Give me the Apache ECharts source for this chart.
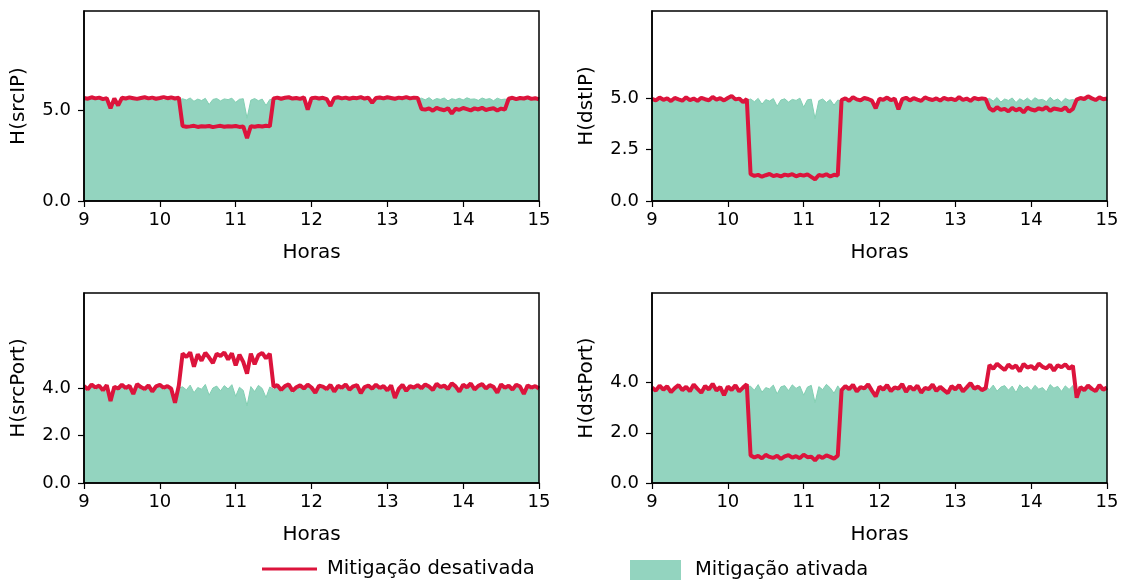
<!DOCTYPE html>
<html>
<head>
<meta charset="utf-8">
<script src="https://cdn.jsdelivr.net/npm/echarts@6/dist/echarts.min.js"></script>
<style>
  html, body { margin: 0; padding: 0; background: #fff; }
  #chart { width: 1124px; height: 584px; }
</style>
</head>
<body>
<div id="chart"></div>
<script>
// Sample times (hours of day), one reading every 3 minutes
const hours = [
  9.00, 9.05, 9.10, 9.15, 9.20, 9.25, 9.30, 9.35, 9.40, 9.45,
  9.50, 9.55, 9.60, 9.65, 9.70, 9.75, 9.80, 9.85, 9.90, 9.95,
  10.00, 10.05, 10.10, 10.15, 10.20, 10.25, 10.30, 10.35, 10.40, 10.45,
  10.50, 10.55, 10.60, 10.65, 10.70, 10.75, 10.80, 10.85, 10.90, 10.95,
  11.00, 11.05, 11.10, 11.15, 11.20, 11.25, 11.30, 11.35, 11.40, 11.45,
  11.50, 11.55, 11.60, 11.65, 11.70, 11.75, 11.80, 11.85, 11.90, 11.95,
  12.00, 12.05, 12.10, 12.15, 12.20, 12.25, 12.30, 12.35, 12.40, 12.45,
  12.50, 12.55, 12.60, 12.65, 12.70, 12.75, 12.80, 12.85, 12.90, 12.95,
  13.00, 13.05, 13.10, 13.15, 13.20, 13.25, 13.30, 13.35, 13.40, 13.45,
  13.50, 13.55, 13.60, 13.65, 13.70, 13.75, 13.80, 13.85, 13.90, 13.95,
  14.00, 14.05, 14.10, 14.15, 14.20, 14.25, 14.30, 14.35, 14.40, 14.45,
  14.50, 14.55, 14.60, 14.65, 14.70, 14.75, 14.80, 14.85, 14.90, 14.95,
  15.00
];

// Entropy H(srcIP)
const srcIPOff = [
  5.66, 5.62, 5.70, 5.64, 5.68, 5.60, 5.65, 5.10, 5.63, 5.25,
  5.67, 5.63, 5.69, 5.65, 5.61, 5.66, 5.70, 5.64, 5.68, 5.62,
  5.66, 5.71, 5.65, 5.69, 5.63, 5.68,
  4.12, 4.08, 4.10, 4.13, 4.07, 4.11, 4.09, 4.12, 4.06, 4.10,
  4.13, 4.08, 4.11, 4.09, 4.12, 4.07, 4.10, 3.45, 4.11, 4.08,
  4.12, 4.09, 4.13, 4.10,
  5.64, 5.68, 5.62, 5.67, 5.70, 5.63, 5.66, 5.61, 5.69, 5.02,
  5.65, 5.68, 5.63, 5.67, 5.60, 5.22, 5.66, 5.70, 5.64, 5.68,
  5.62, 5.67, 5.65, 5.71, 5.63, 5.68, 5.40, 5.66, 5.69, 5.64,
  5.70, 5.66, 5.62, 5.68, 5.65, 5.71, 5.64, 5.68, 5.66,
  5.06, 5.02, 5.09, 4.96, 5.12, 5.04, 4.99, 5.10, 4.80, 5.07,
  5.01, 5.11, 5.05, 4.98, 5.09, 5.03, 5.12, 5.00, 5.06, 5.10,
  4.97, 5.08, 5.02,
  5.62, 5.67, 5.60, 5.66, 5.63, 5.69, 5.61, 5.65, 5.58
];
const srcIPOn = [
  5.58, 5.52, 5.60, 5.55, 5.62, 5.50, 5.57, 5.05, 5.54, 5.20,
  5.56, 5.60, 5.53, 5.58, 5.51, 5.59, 5.55, 5.61, 5.52, 5.57,
  5.60, 5.54, 5.58, 5.51, 5.57, 5.55,
  5.62, 5.55, 5.66, 5.48, 5.60, 5.52, 5.64, 5.30, 5.58, 5.63,
  5.50, 5.61, 5.57, 5.65, 5.42, 5.59, 5.62, 4.55, 5.54, 5.63,
  5.51, 5.60, 5.25, 5.58,
  5.57, 5.61, 5.53, 5.59, 5.62, 5.54, 5.58, 5.50, 5.60, 5.00,
  5.56, 5.60, 5.52, 5.58, 5.51, 5.20, 5.57, 5.61, 5.55, 5.59,
  5.53, 5.58, 5.56, 5.62, 5.52, 5.59, 5.38, 5.57, 5.60, 5.55,
  5.61, 5.56, 5.52, 5.59, 5.55, 5.62, 5.54, 5.58,
  5.60, 5.65, 5.56, 5.68, 5.52, 5.63, 5.58, 5.66, 5.50, 5.62, 5.57, 5.64,
  5.55, 5.67, 5.59, 5.61, 5.53, 5.66, 5.58, 5.63, 5.51, 5.65, 5.57, 5.60,
  5.55, 5.60, 5.52, 5.58, 5.54, 5.61, 5.53, 5.57, 5.50
];

// Entropy H(dstIP)
const dstIPOff = [
  4.95, 4.88, 5.02, 4.91, 4.98, 4.85, 5.00, 4.93, 4.87, 5.03,
  4.90, 4.97, 4.86, 5.01, 4.94, 4.89, 5.05, 4.92, 4.99, 4.88,
  5.00, 5.10, 4.93, 4.97, 4.80, 4.95,
  1.30, 1.22, 1.27, 1.18, 1.25, 1.31, 1.21, 1.26, 1.19, 1.28,
  1.24, 1.30, 1.20, 1.27, 1.23, 1.29, 1.17, 1.05, 1.26, 1.22,
  1.30, 1.19, 1.27, 1.24,
  4.90, 4.98, 4.86, 5.04, 4.93, 4.88, 5.00, 4.95, 4.87, 4.50,
  4.96, 4.91, 5.02, 4.89, 4.97, 4.45, 4.94, 5.01, 4.88, 4.99,
  4.92, 4.86, 5.03, 4.95, 4.90, 4.98, 4.87, 5.00, 4.93, 4.96,
  4.89, 5.04, 4.91, 4.97, 4.86, 5.00, 4.94, 4.98, 4.95,
  4.50, 4.38, 4.55, 4.42, 4.47, 4.35, 4.52, 4.40, 4.48, 4.30,
  4.53, 4.44, 4.39, 4.50, 4.43, 4.56, 4.37, 4.49, 4.45, 4.41,
  4.54, 4.33, 4.47,
  4.92, 5.00, 4.95, 5.08, 4.98, 4.90, 5.03, 4.94, 4.97
];
const dstIPOn = [
  4.88, 4.82, 4.95, 4.85, 4.90, 4.80, 4.93, 4.86, 4.81, 4.96,
  4.84, 4.90, 4.80, 4.94, 4.87, 4.83, 4.98, 4.85, 4.92, 4.82,
  4.93, 5.02, 4.86, 4.90, 4.75, 4.88,
  4.95, 4.82, 4.98, 4.70, 4.92, 4.85, 4.97, 4.60, 4.90, 4.96,
  4.80, 4.93, 4.88, 4.99, 4.55, 4.91, 4.94, 4.00, 4.87, 4.95,
  4.78, 4.92, 4.65, 4.90,
  4.84, 4.91, 4.80, 4.97, 4.86, 4.82, 4.93, 4.88, 4.81, 4.45,
  4.89, 4.85, 4.95, 4.83, 4.90, 4.40, 4.87, 4.94, 4.82, 4.92,
  4.86, 4.80, 4.96, 4.88, 4.84, 4.91, 4.81, 4.93, 4.87, 4.90,
  4.83, 4.97, 4.85, 4.90, 4.80, 4.93, 4.88, 4.91,
  4.90, 4.98, 4.85, 5.02, 4.80, 4.95, 4.88, 5.00, 4.78, 4.96, 4.86, 4.99,
  4.84, 5.01, 4.90, 4.93, 4.82, 5.03, 4.87, 4.95, 4.80, 4.98, 4.89, 4.92,
  4.86, 4.94, 4.88, 5.00, 4.91, 4.84, 4.96, 4.87, 4.90
];

// Entropy H(srcPort)
const srcPortOff = [
  4.08, 3.95, 4.15, 4.02, 4.10, 3.90, 4.12, 3.45, 4.05, 3.98,
  4.14, 4.00, 4.09, 3.75, 4.16, 4.04, 3.96, 4.11, 3.85, 4.07,
  4.13, 4.01, 4.08, 3.97, 3.38, 4.10,
  5.45, 5.30, 5.50, 4.90, 5.42, 5.15, 5.48, 5.28, 5.05, 5.44,
  5.35, 5.50, 5.20, 5.46, 4.95, 5.40, 5.10, 4.60, 5.45, 5.00,
  5.38, 5.48, 5.25, 5.44,
  4.05, 4.12, 3.92, 4.08, 4.15, 3.88, 4.03, 4.11, 3.98, 4.14,
  4.02, 3.80, 4.10, 4.06, 3.95, 4.13, 3.85, 4.09, 4.01, 4.15,
  3.93, 4.07, 4.12, 3.78, 4.04, 4.10, 3.97, 4.14, 4.00, 4.08,
  3.90, 4.11, 3.58, 3.96, 4.13, 3.88, 4.08, 4.02,
  4.12, 3.99, 4.15, 4.06, 3.92, 4.18, 4.04, 4.10, 3.96, 4.20, 4.07, 3.85,
  4.14, 4.03, 4.19, 3.94, 4.09, 4.16, 3.98, 4.12, 4.05, 3.80, 4.15, 4.01,
  4.10, 3.93, 4.14, 4.06, 3.75, 4.11, 4.02, 4.08, 3.98
];
const srcPortOn = [
  3.98, 3.85, 4.05, 3.92, 4.00, 3.80, 4.02, 3.40, 3.95, 3.88,
  4.04, 3.90, 3.99, 3.70, 4.06, 3.94, 3.86, 4.01, 3.78, 3.97,
  4.03, 3.91, 3.98, 3.87, 3.35, 4.00,
  4.05, 3.92, 4.12, 3.80, 4.02, 3.95, 4.15, 3.70, 4.00, 4.08,
  3.88, 4.10, 3.96, 4.14, 3.65, 4.03, 3.90, 3.25, 4.06, 3.85,
  4.11, 3.98, 3.60, 4.04,
  3.95, 4.02, 3.82, 3.98, 4.05, 3.78, 3.93, 4.01, 3.88, 4.04,
  3.92, 3.72, 4.00, 3.96, 3.85, 4.03, 3.78, 3.99, 3.91, 4.05,
  3.84, 3.97, 4.02, 3.70, 3.94, 4.00, 3.87, 4.04, 3.90, 3.98,
  3.82, 4.01, 3.52, 3.86, 4.03, 3.80, 3.98, 3.92,
  4.02, 3.89, 4.05, 3.96, 3.84, 4.08, 3.94, 4.00, 3.86, 4.10, 3.97, 3.78,
  4.04, 3.93, 4.09, 3.85, 3.99, 4.06, 3.88, 4.02, 3.95, 3.72, 4.05, 3.91,
  4.00, 3.84, 4.04, 3.96, 3.68, 4.01, 3.92, 3.98, 3.88
];

// Entropy H(dstPort)
const dstPortOff = [
  3.80, 3.68, 3.88, 3.72, 3.85, 3.62, 3.78, 3.90, 3.70, 3.83,
  3.66, 3.92, 3.75, 3.60, 3.86, 3.73, 3.95, 3.69, 3.82, 3.50,
  3.84, 3.71, 3.89, 3.65, 3.80, 3.93,
  1.10, 1.02, 1.08, 0.98, 1.12, 1.04, 1.00, 1.09, 0.96, 1.06,
  1.11, 1.01, 1.07, 0.99, 1.13, 1.03, 1.05, 0.90, 1.08, 1.00,
  1.10, 1.04, 0.97, 1.09,
  3.70, 3.86, 3.74, 3.91, 3.65, 3.82, 3.77, 3.93, 3.68, 3.45,
  3.84, 3.72, 3.90, 3.66, 3.81, 3.76, 3.94, 3.63, 3.85, 3.71,
  3.88, 3.60, 3.79, 3.74, 3.92, 3.67, 3.83, 3.70, 3.58, 3.86,
  3.73, 3.90, 3.65, 3.81, 3.98, 3.76, 3.84, 3.70, 3.78,
  4.70, 4.55, 4.75, 4.62, 4.50, 4.72, 4.58, 4.68, 4.45, 4.74,
  4.60, 4.66, 4.53, 4.76, 4.63, 4.57, 4.71, 4.48, 4.69, 4.61,
  4.73, 4.56, 4.67,
  3.40, 3.82, 3.70, 3.88, 3.75, 3.66, 3.90, 3.72, 3.80
];
const dstPortOn = [
  3.74, 3.62, 3.82, 3.66, 3.79, 3.56, 3.72, 3.84, 3.64, 3.77,
  3.60, 3.86, 3.69, 3.54, 3.80, 3.67, 3.89, 3.63, 3.76, 3.45,
  3.78, 3.65, 3.83, 3.59, 3.74, 3.87,
  3.85, 3.70, 3.92, 3.62, 3.80, 3.75, 3.90, 3.55, 3.83, 3.88,
  3.68, 3.91, 3.77, 3.86, 3.50, 3.82, 3.89, 3.20, 3.84, 3.72,
  3.93, 3.79, 3.58, 3.87,
  3.64, 3.80, 3.68, 3.85, 3.59, 3.76, 3.71, 3.87, 3.62, 3.40,
  3.78, 3.66, 3.84, 3.60, 3.75, 3.70, 3.88, 3.57, 3.79, 3.65,
  3.82, 3.54, 3.73, 3.68, 3.86, 3.61, 3.77, 3.64, 3.52, 3.80,
  3.67, 3.84, 3.59, 3.75, 3.92, 3.70, 3.78, 3.64,
  3.85, 3.72, 3.90, 3.66, 3.82, 3.88, 3.70, 3.86, 3.60, 3.91, 3.76, 3.84,
  3.68, 3.89, 3.74, 3.80, 3.63, 3.92, 3.78, 3.85, 3.65, 3.87, 3.73, 3.88,
  3.38, 3.76, 3.64, 3.82, 3.69, 3.60, 3.84, 3.66, 3.74
];

// Panel definitions: axis title, upper limit and labelled ticks
const panelTitles = ['H(srcIP)', 'H(dstIP)', 'H(srcPort)', 'H(dstPort)'];
const panelMax = [10.44, 9.22, 8.0, 7.57];
const panelTicks = [[0, 5], [0, 2.5, 5], [0, 2, 4], [0, 2, 4]];
const xTicks = [9, 10, 11, 12, 13, 14, 15];
const offSeries = [srcIPOff, dstIPOff, srcPortOff, dstPortOff];
const onSeries = [srcIPOn, dstIPOn, srcPortOn, dstPortOn];

const NAME_OFF = 'Mitigação desativada';
const NAME_ON = 'Mitigação ativada';
const RED = '#dc143c';
const GREEN = '#93d4bf';
const FONT = 'DejaVu Sans';

const gridPos = [
  { left: 84, top: 11 },
  { left: 652, top: 11 },
  { left: 84, top: 293 },
  { left: 652, top: 293 }
];

const pairs = (ys) => hours.map((h, i) => [h, ys[i]]);

const grids = [], xAxes = [], yAxes = [], series = [];
gridPos.forEach((p, k) => {
  grids.push({
    left: p.left, top: p.top, width: 455, height: 190,
    show: true, borderColor: '#000', borderWidth: 1.5,
    backgroundColor: 'transparent', z: 10
  });
  xAxes.push({
    type: 'value', gridIndex: k, min: 9, max: 15, interval: 1,
    name: 'Horas', nameLocation: 'middle', nameGap: 42,
    nameTextStyle: { fontFamily: FONT, fontSize: 20, color: '#000' },
    axisLine: { show: true, onZero: false, lineStyle: { color: '#000', width: 1.5 } },
    axisTick: { show: true, length: 6, lineStyle: { color: '#000', width: 1.2 } },
    axisLabel: { fontFamily: FONT, fontSize: 18, color: '#000', margin: 10,
      customValues: xTicks, formatter: (v) => String(v) },
    splitLine: { show: false },
    z: 11
  });
  yAxes.push({
    type: 'value', gridIndex: k, min: 0, max: panelMax[k],
    name: panelTitles[k], nameLocation: 'middle', nameGap: 55,
    nameTextStyle: { fontFamily: FONT, fontSize: 20, color: '#000' },
    axisLine: { show: true, onZero: false, lineStyle: { color: '#000', width: 1.5 } },
    axisTick: { show: true, length: 6, customValues: panelTicks[k],
      lineStyle: { color: '#000', width: 1.2 } },
    axisLabel: { fontFamily: FONT, fontSize: 18, color: '#000', margin: 13,
      customValues: panelTicks[k], formatter: (v) => v.toFixed(1) },
    splitLine: { show: false },
    z: 11
  });
  series.push({
    name: NAME_ON, type: 'line', xAxisIndex: k, yAxisIndex: k,
    data: pairs(onSeries[k]), showSymbol: false, symbol: 'none',
    itemStyle: { color: GREEN },
    lineStyle: { color: '#82cfb2', width: 1 },
    areaStyle: { color: GREEN, opacity: 1 },
    z: 2
  });
  series.push({
    name: NAME_OFF, type: 'line', xAxisIndex: k, yAxisIndex: k,
    data: pairs(offSeries[k]), showSymbol: false, symbol: 'none',
    itemStyle: { color: RED },
    lineStyle: { color: RED, width: 4 },
    z: 3
  });
});

const chart = echarts.init(document.getElementById('chart'), null, { renderer: 'canvas' });
chart.setOption({
  animation: false,
  backgroundColor: '#fff',
  grid: grids,
  xAxis: xAxes,
  yAxis: yAxes,
  legend: [
    {
      data: [NAME_OFF], left: 257, top: 554, icon: 'rect',
      itemWidth: 55, itemHeight: 3,
      textStyle: { fontFamily: FONT, fontSize: 19.5, color: '#000', padding: [0, 0, 0, 5] }
    },
    {
      data: [NAME_ON], left: 625, top: 555, icon: 'rect',
      itemWidth: 51, itemHeight: 20,
      textStyle: { fontFamily: FONT, fontSize: 19.5, color: '#000', padding: [0, 0, 0, 9] }
    }
  ],
  series: series
});
</script>
</body>
</html>
